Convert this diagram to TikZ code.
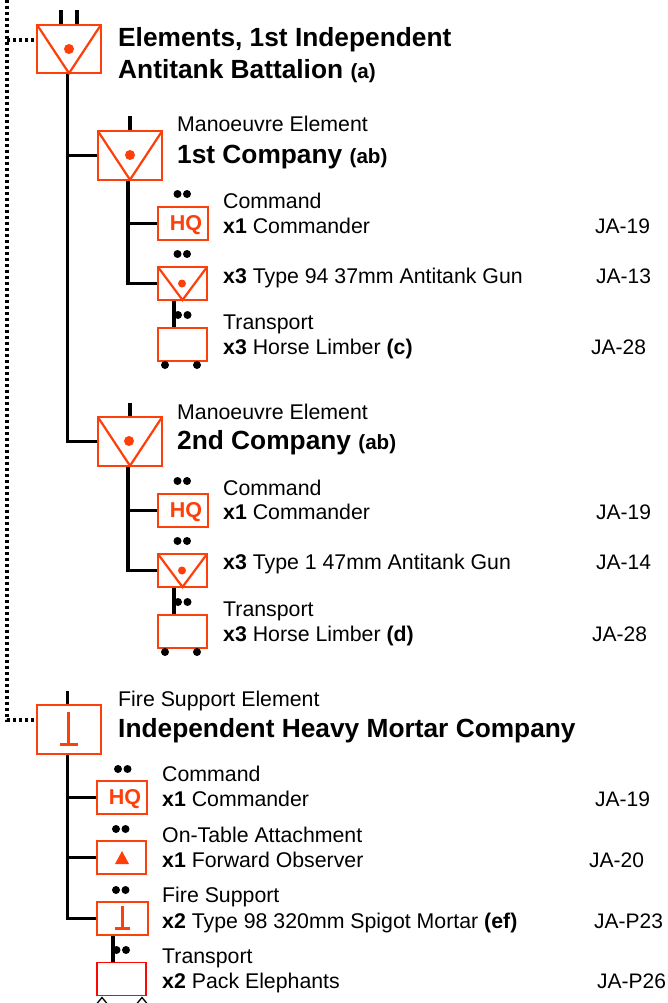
\documentclass[tikz,border=0pt]{standalone}
\usepackage{fontspec}
\setmainfont{Liberation Sans}
\definecolor{sym}{HTML}{FF3F0A}
\newcommand{\smtxt}{\fontsize{21.3}{24}\selectfont}
\newcommand{\codetxt}{\fontsize{21}{24}\selectfont}
\newcommand{\hdtxt}{\fontsize{26.3}{30}\selectfont\bfseries}
\newcommand{\hstxt}{\fontsize{20.6}{24}\selectfont\bfseries}
\tikzset{
  sbox/.style={draw=sym,line width=2.2pt,fill=white,minimum width=#1,minimum height=33pt,inner sep=0pt,outer sep=0pt},
  bigbox/.style={draw=sym,line width=2.2pt,fill=white,minimum width=64pt,minimum height=48.5pt,inner sep=0pt,outer sep=0pt},
  symline/.style={draw=sym,line width=2.2pt},
  link/.style={draw=black,line width=3.6pt},
  thinlink/.style={draw=black,line width=3.2pt},
  dotted link/.style={draw=black,line width=3.2pt,dash pattern=on 3pt off 3pt},
  blackdot/.style={circle,fill=black,inner sep=0pt,minimum size=8pt},
  symdot/.style={circle,fill=sym,inner sep=0pt,minimum size=#1},
  lbl/.style={anchor=base west,inner sep=0pt,font=\smtxt},
  code/.style={anchor=base west,inner sep=0pt,font=\codetxt},
  head/.style={anchor=base west,inner sep=0pt,font=\hdtxt},
  hq/.style={text=sym,font=\fontsize{21.5}{22}\selectfont\bfseries},
}
\newcommand{\vmark}[1]{\draw[symline] (#1.north west) -- (#1.south) -- (#1.north east);}
\newcommand{\dotpair}[3]{\node[blackdot] (#1a) at (#2,#3) {}; \node[blackdot] (#1b) at (#2+9.5,#3) {};}
\begin{document}
\begin{tikzpicture}[x=1pt,y=-1pt]
\useasboundingbox (0,0) rectangle (667,1003);
% ---------- boxes
\node[bigbox] (top) at (69,49) {};
\node[bigbox] (c1) at (130,155.5) {};
\node[sbox=50pt] (c1hq) at (183,223.5) {};
\node[sbox=49pt] (c1gun) at (182.5,283.5) {};
\node[sbox=49pt] (c1lim) at (182.5,344.5) {};
\node[bigbox] (c2) at (130,441.5) {};
\node[sbox=50pt] (c2hq) at (183,510.5) {};
\node[sbox=49pt] (c2gun) at (182.5,570.5) {};
\node[sbox=49pt] (c2lim) at (182.5,631.5) {};
\node[bigbox] (fs) at (69,729.5) {};
\node[sbox=50pt] (fshq) at (122,797.5) {};
\node[sbox=49pt] (fsfo) at (121.5,857.5) {};
\node[sbox=51pt] (fsmo) at (122.5,918.5) {};
\node[sbox=49pt,draw=red!90!sym,line width=1.8pt] (fstr) at (121.5,979) {};
% ---------- free ends
\coordinate (dtop) at (7,0);
\coordinate (t1a) at (61,10); \coordinate (t1b) at (77,10);
\coordinate (t2) at (130,116); \coordinate (t3) at (130,403); \coordinate (t4) at (67.5,691);
% ---------- connectors
\draw[dotted link] (dtop) -- (7,720) -- (fs.west |- 0,720);
\draw[dotted link] (7,40) -- (top.west |- 0,40);
\draw[link] (t1a) -- (61,24);
\draw[thinlink] (t1b) -- (77,24);
\draw[thinlink] (t2) -- (130,130);
\draw[thinlink] (t3) -- (130,416);
\draw[thinlink] (t4) -- (67.5,704);
\draw[link] (67.5,73) |- (c1.west);
\draw[link] (67.5,146) |- (c2.west);
\draw[link] (128,180) |- (c1hq.west);
\draw[link] (128,222) |- (c1gun.west);
\draw[link] (128,466) |- (c2hq.west);
\draw[link] (128,509) |- (c2gun.west);
\draw[link] (174,300) -- (c1lim.north -| 174,0);
\draw[link] (174,587) -- (c2lim.north -| 174,0);
\draw[link] (67.5,754) |- (fshq.west);
\draw[link] (67.5,796) |- (fsfo.west);
\draw[link] (67.5,856) |- (fsmo.west);
\draw[link] (113,935) -- (113,962);
% ---------- redraw box borders above links
\foreach \b in {top,c1,c1hq,c1gun,c1lim,c2,c2hq,c2gun,c2lim,fs,fshq,fsfo,fsmo}{\draw[symline] (\b.north west) rectangle (\b.south east);}
% ---------- symbols
\vmark{top} \vmark{c1} \vmark{c1gun} \vmark{c2} \vmark{c2gun}
\node[symdot=10pt] (dtopa) at (69,49) {};
\node[symdot=10pt] (dc1) at (130,155) {};
\node[symdot=10pt] (dc2) at (129,441) {};
\node[symdot=8pt] (dg1) at (182,283.5) {};
\node[symdot=8pt] (dg2) at (182,570.5) {};
\draw[symline,line width=3pt] (68.5,712) -- (68.5,744) (60,744) -- (78,744);
\draw[symline,line width=3pt] (122,906) -- (122,928) (115,928) -- (130,928);
\fill[sym] (115,864) -- (122,851) -- (129,864) -- cycle;
\node[hq] (hq1) at (186,225.5) {HQ};
\node[hq] (hq2) at (186,512) {HQ};
\node[hq] (hq3) at (125,799.5) {HQ};
% ---------- black dots
\dotpair{p1}{177.5}{194} \dotpair{p2}{177.5}{254} \dotpair{p3}{178}{315}
\dotpair{p4}{177.5}{481} \dotpair{p5}{177.5}{541} \dotpair{p6}{178}{602}
\dotpair{p7}{118}{769} \dotpair{p8}{116}{829} \dotpair{p9}{116}{890} \dotpair{p10}{116.5}{950}
\foreach \n/\x/\y in {w1/165/365,w2/197/365,w3/165/652,w4/197/652}{\node[blackdot] (\n) at (\x,\y) {};}
\draw[black,line width=1.3pt] (97,1003.5) -- (102,997.5) -- (107,1003.5) (137,1003.5) -- (142,997.5) -- (147,1003.5);
% ---------- text
\node[head] (n1) at (118,47) {Elements, 1st Independent};
\node[head] (n2) at (118,78.5) {Antitank Battalion {\hstxt (a)}};
\node[lbl] (n3) at (177,132) {Manoeuvre Element};
\node[head] (n4) at (177,163.5) {1st Company {\hstxt (ab)}};
\node[lbl] (n5) at (223,208) {Command};
\node[lbl] (n6) at (223,233) {\textbf{x1} Commander};
\node[code] (n7) at (595,233) {JA-19};
\node[lbl] (n8) at (223,283) {\textbf{x3} Type 94 37mm Antitank Gun};
\node[code] (n9) at (596,283) {JA-13};
\node[lbl] (n10) at (223,329) {Transport};
\node[lbl] (n11) at (223,354) {\textbf{x3} Horse Limber \textbf{(c)}};
\node[code] (n12) at (591,354) {JA-28};
\node[lbl] (n13) at (177,419) {Manoeuvre Element};
\node[head] (n14) at (177,449.5) {2nd Company {\hstxt (ab)}};
\node[lbl] (n15) at (223,495) {Command};
\node[lbl] (n16) at (223,519) {\textbf{x1} Commander};
\node[code] (n17) at (596,519) {JA-19};
\node[lbl] (n18) at (223,569) {\textbf{x3} Type 1 47mm Antitank Gun};
\node[code] (n19) at (596,569) {JA-14};
\node[lbl] (n20) at (223,616) {Transport};
\node[lbl] (n21) at (223,641) {\textbf{x3} Horse Limber \textbf{(d)}};
\node[code] (n22) at (592,641) {JA-28};
\node[lbl] (n23) at (118,706) {Fire Support Element};
\node[head] (n24) at (118,737.5) {Independent Heavy Mortar Company};
\node[lbl] (n25) at (162,781.5) {Command};
\node[lbl] (n26) at (162,806.5) {\textbf{x1} Commander};
\node[code] (n27) at (595,806.5) {JA-19};
\node[lbl] (n28) at (162,842.5) {On-Table Attachment};
\node[lbl] (n29) at (162,867.5) {\textbf{x1} Forward Observer};
\node[code] (n30) at (589,867.5) {JA-20};
\node[lbl] (n31) at (162,902.5) {Fire Support};
\node[lbl] (n32) at (162,928) {\textbf{x2} Type 98 320mm Spigot Mortar \textbf{(ef)}};
\node[code] (n33) at (594,928) {JA-P23};
\node[lbl] (n34) at (162,963.5) {Transport};
\node[lbl] (n35) at (162,988.5) {\textbf{x2} Pack Elephants};
\node[code] (n36) at (597,988.5) {JA-P26};
\end{tikzpicture}
\end{document}
